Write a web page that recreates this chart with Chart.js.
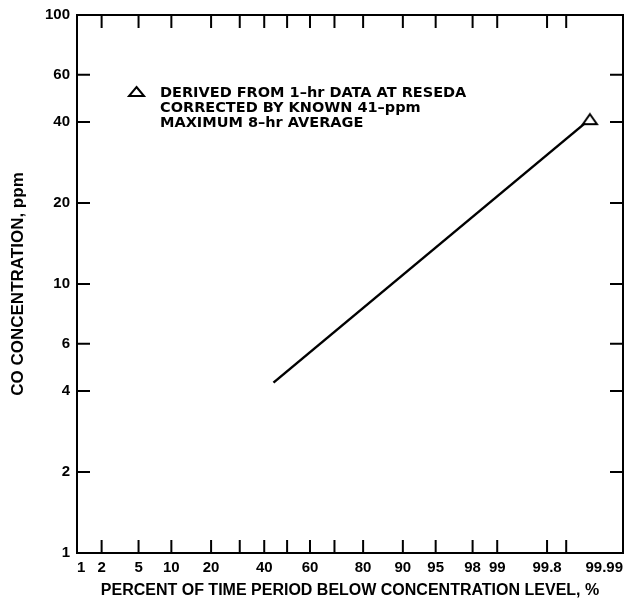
<!DOCTYPE html>
<html>
<head>
<meta charset="utf-8">
<script src="https://cdn.jsdelivr.net/npm/chart.js@4.4.1/dist/chart.umd.min.js"></script>
<style>
  html, body { margin: 0; padding: 0; background: #fff; }
</style>
</head>
<body>
<canvas id="chart" width="626" height="604"></canvas>
<script>
// percent of time below level -> CO concentration (ppm)
const linePercent = [44, 99.96];
const lineCO = [4.3, 41];
const pointPercent = [99.96];
const pointCO = [41];

const xTickPercent = [1, 2, 5, 10, 20, 30, 40, 50, 60, 70, 80, 90, 95, 98, 99, 99.8, 99.9, 99.99];
const xTickLabels = ['1', '2', '5', '10', '20', '', '40', '', '60', '', '80', '90', '95', '98', '99', '99.8', '', '99.99'];
const yTickValues = [1, 2, 4, 6, 10, 20, 40, 60, 100];
const yTickLabels = ['1', '2', '4', '6', '10', '20', '40', '60', '100'];

const noteLines = ['DERIVED FROM 1\u2013hr DATA AT RESEDA', 'CORRECTED BY KNOWN 41\u2013ppm', 'MAXIMUM 8\u2013hr AVERAGE'];

const FONT = "'Liberation Sans', Arial, sans-serif";
const NOTE_FONT = "'DejaVu Sans', sans-serif";

// inverse normal cdf (Acklam) -> probability paper axis
function probit(p) {
  const a = [-3.969683028665376e+01, 2.209460984245205e+02, -2.759285104469687e+02, 1.383577518672690e+02, -3.066479806614716e+01, 2.506628277459239e+00];
  const b = [-5.447609879822406e+01, 1.615858368580409e+02, -1.556989798598866e+02, 6.680131188771972e+01, -1.328068155288572e+01];
  const c = [-7.784894002430293e-03, -3.223964580411365e-01, -2.400758277161838e+00, -2.549732539343734e+00, 4.374664141464968e+00, 2.938163982698783e+00];
  const d = [7.784695709041462e-03, 3.224671290700398e-01, 2.445134137142996e+00, 3.754408661907416e+00];
  const pl = 0.02425;
  let q, r;
  if (p < pl) {
    q = Math.sqrt(-2 * Math.log(p));
    return (((((c[0]*q+c[1])*q+c[2])*q+c[3])*q+c[4])*q+c[5]) / ((((d[0]*q+d[1])*q+d[2])*q+d[3])*q+1);
  }
  if (p <= 1 - pl) {
    q = p - 0.5; r = q * q;
    return (((((a[0]*r+a[1])*r+a[2])*r+a[3])*r+a[4])*r+a[5])*q / (((((b[0]*r+b[1])*r+b[2])*r+b[3])*r+b[4])*r+1);
  }
  q = Math.sqrt(-2 * Math.log(1 - p));
  return -(((((c[0]*q+c[1])*q+c[2])*q+c[3])*q+c[4])*q+c[5]) / ((((d[0]*q+d[1])*q+d[2])*q+d[3])*q+1);
}
const z = pct => probit(pct / 100);

// open triangle marker, a bit flatter than the built-in one
function triangleMarker(w, h) {
  const cv = document.createElement('canvas');
  cv.width = w + 4; cv.height = h + 4;
  const c = cv.getContext('2d');
  c.beginPath();
  c.moveTo(cv.width / 2, 2);
  c.lineTo(w + 2, h + 2);
  c.lineTo(2, h + 2);
  c.closePath();
  c.fillStyle = '#fff';
  c.fill();
  c.lineWidth = 2;
  c.strokeStyle = '#000';
  c.stroke();
  return cv;
}
const marker = triangleMarker(14, 10);

const frameTicks = {
  id: 'frameTicks',
  beforeDatasetsDraw(chart) {
    const { ctx, chartArea: a, scales: { x, y } } = chart;
    ctx.save();
    ctx.strokeStyle = '#000';
    ctx.lineWidth = 2;
    ctx.strokeRect(a.left, a.top, a.right - a.left, a.bottom - a.top);
    ctx.beginPath();
    x.ticks.forEach(t => {
      const px = x.getPixelForValue(t.value);
      ctx.moveTo(px, a.bottom); ctx.lineTo(px, a.bottom - 13);
      ctx.moveTo(px, a.top); ctx.lineTo(px, a.top + 13);
    });
    y.ticks.forEach(t => {
      const py = y.getPixelForValue(t.value);
      ctx.moveTo(a.left, py); ctx.lineTo(a.left + 13, py);
      ctx.moveTo(a.right, py); ctx.lineTo(a.right - 13, py);
    });
    ctx.stroke();

    // note with its symbol
    ctx.beginPath();
    ctx.moveTo(136.5, 87);
    ctx.lineTo(144, 96);
    ctx.lineTo(129, 96);
    ctx.closePath();
    ctx.stroke();
    ctx.fillStyle = '#000';
    ctx.font = 'bold 14.5px ' + NOTE_FONT;
    ctx.textAlign = 'left';
    ctx.textBaseline = 'alphabetic';
    noteLines.forEach((s, i) => ctx.fillText(s, 160, 97 + i * 15));
    ctx.restore();
  }
};

new Chart(document.getElementById('chart'), {
  type: 'line',
  data: {
    datasets: [
      {
        data: pointPercent.map((p, i) => ({ x: z(p), y: pointCO[i] })),
        showLine: false,
        pointStyle: marker,
        pointRadius: 7
      },
      {
        data: linePercent.map((p, i) => ({ x: z(p), y: lineCO[i] })),
        borderColor: '#000',
        borderWidth: 2.5,
        pointRadius: 0,
        fill: false
      }
    ]
  },
  options: {
    responsive: false,
    animation: false,
    devicePixelRatio: 1,
    layout: { autoPadding: false, padding: { top: 15, right: 3, left: 0, bottom: 0 } },
    plugins: { legend: { display: false }, tooltip: { enabled: false } },
    scales: {
      x: {
        type: 'linear',
        min: z(xTickPercent[0]),
        max: z(xTickPercent[xTickPercent.length - 1]),
        afterBuildTicks: s => { s.ticks = xTickPercent.map(p => ({ value: z(p) })); },
        afterFit: s => { s.height = 51; s.paddingLeft = 0; s.paddingRight = 0; },
        grid: { display: false, drawTicks: false },
        border: { display: false },
        ticks: {
          align: 'inner', autoSkip: false, maxRotation: 0, padding: 6,
          color: '#000', font: { family: FONT, size: 15, weight: 'bold' },
          callback: (v, i) => xTickLabels[i]
        },
        title: {
          display: true, text: 'PERCENT OF TIME PERIOD BELOW CONCENTRATION LEVEL, %',
          color: '#000', font: { family: FONT, size: 16, weight: 'bold' },
          padding: { top: 0, bottom: 4 }
        }
      },
      y: {
        type: 'logarithmic',
        min: 1, max: 100,
        afterBuildTicks: s => { s.ticks = yTickValues.map(v => ({ value: v })); },
        afterFit: s => { s.width = 77; s.paddingTop = 0; s.paddingBottom = 0; },
        grid: { display: false, drawTicks: false },
        border: { display: false },
        ticks: {
          autoSkip: false, padding: 7,
          color: '#000', font: { family: FONT, size: 15, weight: 'bold' },
          callback: (v, i) => yTickLabels[i]
        },
        title: {
          display: true, text: 'CO CONCENTRATION, ppm',
          color: '#000', font: { family: FONT, size: 17, weight: 'bold' },
          padding: { top: 8, bottom: 0 }
        }
      }
    }
  },
  plugins: [frameTicks]
});
</script>
</body>
</html>
